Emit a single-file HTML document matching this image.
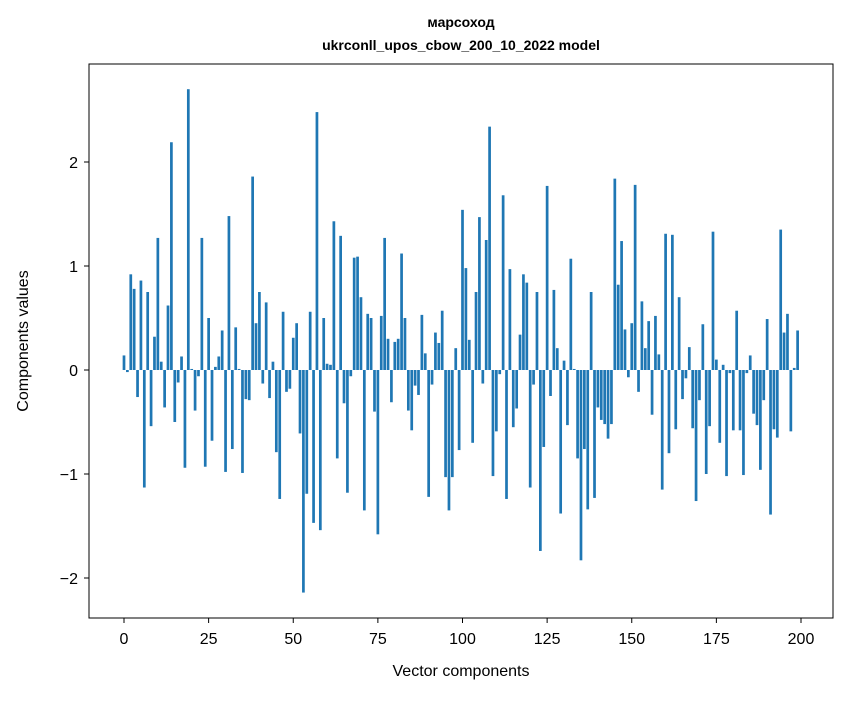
<!DOCTYPE html>
<html><head><meta charset="utf-8"><style>
html,body{margin:0;padding:0;background:#fff;}
svg text{font-family:"Liberation Sans","DejaVu Sans",sans-serif;fill:#000;}
</style></head><body>
<svg id="chart" width="847" height="696" viewBox="0 0 847 696" xmlns="http://www.w3.org/2000/svg">
<rect x="0" y="0" width="847" height="696" fill="#fff"/>
<text x="461" y="27" text-anchor="middle" font-size="14" font-weight="bold">марсоход</text>
<text x="461" y="50" text-anchor="middle" font-size="14" font-weight="bold">ukrconll_upos_cbow_200_10_2022 model</text>
<g id="bars"></g>
<g id="axes"></g>
<rect x="89" y="64" width="744" height="554" fill="none" stroke="#000" stroke-width="1"/>
<text x="461" y="676" text-anchor="middle" font-size="16">Vector components</text>
<text transform="translate(28,341) rotate(-90)" text-anchor="middle" font-size="16">Components values</text>
</svg>
<script>
const values = [
0.14,-0.02,0.92,0.78,-0.26,0.86,-1.13,0.75,-0.54,0.32,
1.27,0.08,-0.36,0.62,2.19,-0.50,-0.12,0.13,-0.94,2.70,
0.01,-0.39,-0.06,1.27,-0.93,0.50,-0.68,0.03,0.13,0.38,
-0.98,1.48,-0.76,0.41,0.01,-0.99,-0.28,-0.29,1.86,0.45,
0.75,-0.13,0.65,-0.27,0.08,-0.79,-1.24,0.56,-0.21,-0.18,
0.31,0.45,-0.61,-2.14,-1.19,0.56,-1.47,2.48,-1.54,0.50,
0.06,0.05,1.43,-0.85,1.29,-0.32,-1.18,-0.06,1.08,1.09,
0.70,-1.35,0.54,0.50,-0.40,-1.58,0.52,1.27,0.30,-0.31,
0.27,0.30,1.12,0.50,-0.39,-0.58,-0.15,-0.24,0.53,0.16,
-1.22,-0.14,0.36,0.26,0.57,-1.03,-1.35,-1.03,0.21,-0.77,
1.54,0.98,0.29,-0.70,0.75,1.47,-0.13,1.25,2.34,-1.02,
-0.59,-0.04,1.68,-1.24,0.97,-0.55,-0.37,0.34,0.92,0.84,
-1.13,-0.14,0.75,-1.74,-0.74,1.77,-0.25,0.77,0.21,-1.38,
0.09,-0.53,1.07,0.01,-0.85,-1.83,-0.76,-1.34,0.75,-1.23,
-0.36,-0.48,-0.52,-0.66,-0.52,1.84,0.82,1.24,0.39,-0.07,
0.45,1.78,-0.21,0.66,0.21,0.47,-0.43,0.52,0.15,-1.15,
1.31,-0.80,1.30,-0.57,0.70,-0.28,-0.08,0.22,-0.56,-1.26,
-0.29,0.44,-1.00,-0.54,1.33,0.10,-0.70,0.05,-1.02,-0.03,
-0.58,0.57,-0.58,-1.01,-0.03,0.14,-0.42,-0.53,-0.96,-0.29,
0.49,-1.39,-0.57,-0.65,1.35,0.36,0.54,-0.59,0.02,0.38
];
const xTicks = [0,25,50,75,100,125,150,175,200];
const yTicks = [-2,-1,0,1,2];
const xTickLabels = ["0","25","50","75","100","125","150","175","200"];
const yTickLabels = ["\u22122","\u22121","0","1","2"];

const NS = "http://www.w3.org/2000/svg";
function xScale(v){ return 124 + v * (801 - 124) / 200; }
function yScale(v){ return 370 - v * 104; }
const barW = 0.8 * (801 - 124) / 200;

const gBars = document.getElementById('bars');
values.forEach(function(v, i){
  const r = document.createElementNS(NS, 'rect');
  const y0 = yScale(0), y1 = yScale(v);
  r.setAttribute('x', (xScale(i) - barW / 2).toFixed(2));
  r.setAttribute('y', Math.min(y0, y1).toFixed(2));
  r.setAttribute('width', barW.toFixed(2));
  r.setAttribute('height', Math.max(Math.abs(y1 - y0), 0.3).toFixed(2));
  r.setAttribute('fill', '#1f77b4');
  
  
  gBars.appendChild(r);
});

const gAxes = document.getElementById('axes');
xTicks.forEach(function(t, i){
  const x = xScale(t);
  const l = document.createElementNS(NS, 'line');
  l.setAttribute('x1', x); l.setAttribute('x2', x);
  l.setAttribute('y1', 618); l.setAttribute('y2', 623);
  l.setAttribute('stroke', '#000');
  
  
  gAxes.appendChild(l);
  const tx = document.createElementNS(NS, 'text');
  tx.setAttribute('x', x); tx.setAttribute('y', 644);
  tx.setAttribute('text-anchor', 'middle');
  tx.setAttribute('font-size', '16');
  tx.textContent = xTickLabels[i];
  
  
  gAxes.appendChild(tx);
});
yTicks.forEach(function(t, i){
  const y = yScale(t);
  const l = document.createElementNS(NS, 'line');
  l.setAttribute('x1', 84); l.setAttribute('x2', 89);
  l.setAttribute('y1', y); l.setAttribute('y2', y);
  l.setAttribute('stroke', '#000');
  
  
  gAxes.appendChild(l);
  const tx = document.createElementNS(NS, 'text');
  tx.setAttribute('x', 78); tx.setAttribute('y', y + 6);
  tx.setAttribute('text-anchor', 'end');
  tx.setAttribute('font-size', '16');
  tx.textContent = yTickLabels[i];
  
  
  gAxes.appendChild(tx);
});
</script>
</body></html>
